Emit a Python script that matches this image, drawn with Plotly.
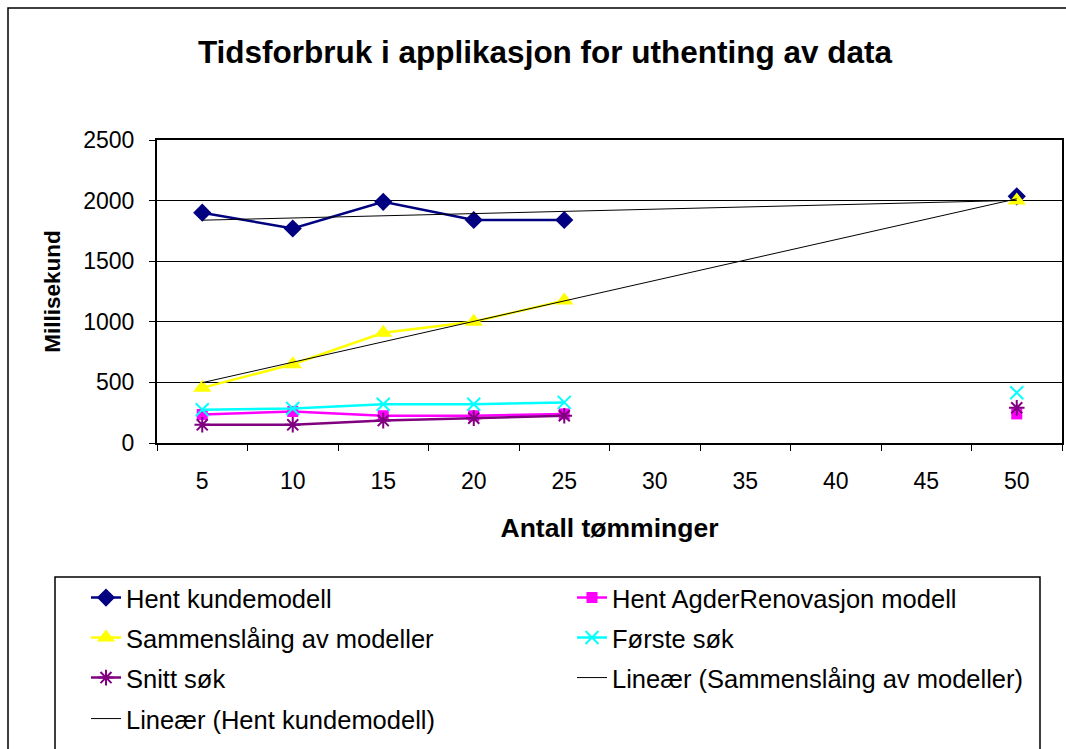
import numpy as np
import plotly.graph_objects as go

# ---- data ----
categories = ["5", "10", "15", "20", "25", "30", "35", "40", "45", "50"]
hent_kundemodell = [1900, 1770, 1990, 1840, 1840, None, None, None, None, 2035]
hent_agder = [235, 260, 225, 225, 240, None, None, None, None, 240]
sammenslaaing = [455, 650, 910, 1000, 1175, None, None, None, None, 2000]
forste_sok = [275, 285, 320, 320, 335, None, None, None, None, 415]
snitt_sok = [150, 150, 185, 205, 225, None, None, None, None, 290]

title_text = "Tidsforbruk i applikasjon for uthenting av data"
x_title = "Antall tømminger"
y_title = "Millisekund"

W, H = 1066, 749
L, R, T, B = 157, 1062, 140, 443  # plot area in pixels
FONT = "Liberation Sans, Arial, sans-serif"


def px_x(p):
    return (p - L) / (R - L)


def px_y(p):
    return (B - p) / (B - T)


def linear_trend(vals):
    idx = [i + 1 for i, v in enumerate(vals) if v is not None]
    ys = [v for v in vals if v is not None]
    k, m = np.polyfit(idx, ys, 1)
    first, last = idx[0], idx[-1]
    return [categories[first - 1], categories[last - 1]], [k * first + m, k * last + m]


fig = go.Figure()

series = [
    ("Hent kundemodell", hent_kundemodell, "#000080", dict(symbol="diamond", size=14), "legend"),
    ("Hent AgderRenovasjon modell", hent_agder, "#FF00FF", dict(symbol="square", size=11), "legend"),
    ("Sammenslåing av modeller", sammenslaaing, "#FFFF00", dict(symbol="triangle-up", size=16), "legend2"),
    ("Første søk", forste_sok, "#00FFFF",
     dict(symbol="x-thin-open", size=13, line=dict(width=2, color="#00FFFF")), "legend2"),
    ("Snitt søk", snitt_sok, "#800080",
     dict(symbol="asterisk-open", size=13, line=dict(width=2, color="#800080")), "legend3"),
]

for name, vals, col, mk, lg in series:
    mk = dict(mk)
    mk["color"] = col
    fig.add_trace(go.Scatter(
        x=categories, y=vals, name=name, mode="lines+markers",
        line=dict(color=col, width=2.5), marker=mk, connectgaps=False,
        legend=lg,
    ))

tx, ty = linear_trend(sammenslaaing)
fig.add_trace(go.Scatter(x=tx, y=ty, mode="lines", name="Lineær (Sammenslåing av modeller)",
                         line=dict(color="black", width=1), legend="legend3"))
tx, ty = linear_trend(hent_kundemodell)
fig.add_trace(go.Scatter(x=tx, y=ty, mode="lines", name="Lineær (Hent kundemodell)",
                         line=dict(color="black", width=1), legend="legend4"))

legend_common = dict(orientation="h", entrywidth=441, entrywidthmode="pixels",
                     font=dict(family=FONT, size=25.5, color="black"),
                     bgcolor="rgba(0,0,0,0)", borderwidth=0,
                     xanchor="left", yanchor="middle", traceorder="normal")
rows_y = [598, 638, 678, 719]
LEG_X = 86

fig.update_layout(
    width=W, height=H,
    margin=dict(l=L, r=W - R, t=T, b=H - B, pad=0, autoexpand=False),
    paper_bgcolor="white", plot_bgcolor="white",
    font=dict(family=FONT, color="black"),
    title=dict(text="<b>" + title_text + "</b>", x=545 / W, xanchor="center",
               y=1 - 52 / H, yanchor="middle", font=dict(size=31.5, family=FONT, color="black")),
    showlegend=True,
    legend=dict(legend_common, x=px_x(LEG_X), y=px_y(rows_y[0])),
    legend2=dict(legend_common, x=px_x(LEG_X), y=px_y(rows_y[1])),
    legend3=dict(legend_common, x=px_x(LEG_X), y=px_y(rows_y[2])),
    legend4=dict(legend_common, x=px_x(LEG_X), y=px_y(rows_y[3])),
    xaxis=dict(
        type="category", categoryorder="array", categoryarray=categories,
        range=[-0.5, len(categories) - 0.5], tickson="boundaries",
        ticks="outside", ticklen=6, tickcolor="black", tickwidth=1,
        showgrid=False, showline=True, linecolor="black", linewidth=2, mirror=True,
        tickfont=dict(size=23, family=FONT, color="black"), ticklabelstandoff=16,
        title=dict(text="<b>" + x_title + "</b>", font=dict(size=26.5, family=FONT, color="black"),
                   standoff=26),
        zeroline=False, automargin=False,
    ),
    yaxis=dict(
        range=[0, 2500], tickvals=[0, 500, 1000, 1500, 2000, 2500],
        ticks="outside", ticklen=6, tickcolor="black", tickwidth=1,
        showgrid=True, gridcolor="black", gridwidth=1,
        showline=True, linecolor="black", linewidth=2, mirror=True,
        tickfont=dict(size=23, family=FONT, color="black"), ticklabelstandoff=10,
        title=dict(text="<b>" + y_title + "</b>", font=dict(size=22.5, family=FONT, color="black"),
                   standoff=16),
        zeroline=False, automargin=False,
    ),
)

# outer chart border (cropped on right/bottom) and legend box
fig.add_shape(type="rect", xref="paper", yref="paper",
              x0=px_x(8), x1=px_x(1100), y0=px_y(800), y1=px_y(8),
              line=dict(color="black", width=1.5), layer="below")
fig.add_shape(type="rect", xref="paper", yref="paper",
              x0=px_x(55), x1=px_x(1040), y0=px_y(760), y1=px_y(577),
              line=dict(color="black", width=1.5), fillcolor="rgba(0,0,0,0)")

fig.write_html("out.html", config={"displayModeBar": False},
               post_script="document.body.style.margin='0';document.body.style.overflow='hidden';")
